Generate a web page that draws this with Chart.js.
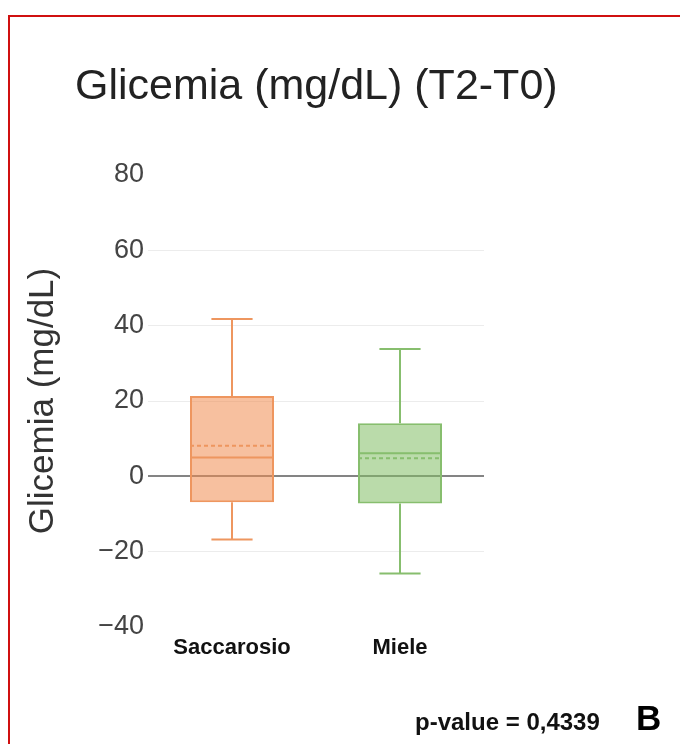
<!DOCTYPE html>
<html>
<head>
<meta charset="utf-8">
<script src="https://cdn.jsdelivr.net/npm/chart.js@4.4.1/dist/chart.umd.min.js"></script>
<style>
  html, body { margin: 0; padding: 0; background: #fff; }
  #wrap { position: relative; width: 680px; height: 744px; overflow: hidden; font-family: "Liberation Sans", Arial, sans-serif; }
  #frame { position: absolute; left: 8px; top: 15px; right: -10px; bottom: -10px; border-left: 2px solid #d01010; border-top: 2px solid #d01010; }
  canvas { position: absolute; left: 0; top: 0; }
  .txt { position: absolute; line-height: 1; white-space: nowrap; color: #222; }
  #titolo { left: 75px; top: 63px; font-size: 43px; }
  #pval { left: 415px; top: 710px; font-size: 24px; font-weight: bold; color: #111; }
  #lettera { left: 636px; top: 700px; font-size: 35px; font-weight: bold; color: #000; }
</style>
</head>
<body>
<div id="wrap">
  <canvas id="graficaGlicemia" width="680" height="744"></canvas>
  <div id="frame"></div>
  <div class="txt" id="titolo">Glicemia (mg/dL) (T2-T0)</div>
  <div class="txt" id="pval">p-value = 0,4339</div>
  <div class="txt" id="lettera">B</div>
</div>
<script>
// Gruppi e statistiche dei box plot
const gruppi = ['Saccarosio', 'Miele'];
const q1 = [-6.9, -7.2];
const q3 = [21.3, 14.1];
const mediana = [5.0, 6.1];
const media = [8.1, 4.8];
const baffoMin = [-16.8, -25.8];
const baffoMax = [41.8, 33.8];

const riempimento = ['rgba(240, 140, 80, 0.55)', 'rgba(130, 190, 100, 0.55)'];
const bordo = ['rgb(238, 150, 95)', 'rgb(135, 190, 110)'];

// Disegna baffi, mediana e media sopra i box
const boxPlugin = {
    id: 'boxExtras',
    afterDatasetsDraw(chart) {
        const ctx = chart.ctx;
        const y = chart.scales.y;
        const meta = chart.getDatasetMeta(0);
        meta.data.forEach(function (bar, i) {
            const cx = bar.x;
            const half = bar.width / 2;
            const cap = half * 0.49;
            ctx.save();
            ctx.strokeStyle = bordo[i];
            ctx.lineWidth = 2;
            ctx.beginPath();
            ctx.moveTo(cx, y.getPixelForValue(q3[i]));
            ctx.lineTo(cx, y.getPixelForValue(baffoMax[i]));
            ctx.moveTo(cx - cap, y.getPixelForValue(baffoMax[i]));
            ctx.lineTo(cx + cap, y.getPixelForValue(baffoMax[i]));
            ctx.moveTo(cx, y.getPixelForValue(q1[i]));
            ctx.lineTo(cx, y.getPixelForValue(baffoMin[i]));
            ctx.moveTo(cx - cap, y.getPixelForValue(baffoMin[i]));
            ctx.lineTo(cx + cap, y.getPixelForValue(baffoMin[i]));
            ctx.moveTo(cx - half, y.getPixelForValue(mediana[i]));
            ctx.lineTo(cx + half, y.getPixelForValue(mediana[i]));
            ctx.stroke();
            ctx.setLineDash([4, 3]);
            ctx.beginPath();
            ctx.moveTo(cx - half, y.getPixelForValue(media[i]));
            ctx.lineTo(cx + half, y.getPixelForValue(media[i]));
            ctx.stroke();
            ctx.restore();
        });
    }
};

const ctx = document.getElementById('graficaGlicemia').getContext('2d');

const grafica = new Chart(ctx, {
    type: 'bar',
    data: {
        labels: gruppi,
        datasets: [{
            label: 'Glicemia',
            data: gruppi.map(function (g, i) { return [q1[i], q3[i]]; }),
            backgroundColor: riempimento,
            borderColor: bordo,
            borderWidth: 2,
            borderSkipped: false,
            barPercentage: 0.5,
            categoryPercentage: 1.0
        }]
    },
    plugins: [boxPlugin],
    options: {
        responsive: false,
        animation: false,
        layout: {
            padding: { left: 0, right: 196, top: 175, bottom: 77 }
        },
        plugins: {
            legend: { display: false },
            tooltip: { enabled: false },
            title: { display: false }
        },
        scales: {
            x: {
                grid: { display: false, drawTicks: false },
                border: { display: false },
                ticks: {
                    color: '#111',
                    padding: 8,
                    font: { family: '"Liberation Sans", Arial, sans-serif', size: 22, weight: 'bold' }
                },
                afterFit: function (scale) { scale.height = 40; }
            },
            y: {
                min: -40,
                max: 80,
                ticks: {
                    stepSize: 20,
                    color: '#444',
                    padding: 4,
                    font: { family: '"Liberation Sans", Arial, sans-serif', size: 27 },
                    callback: function (v) { return v < 0 ? '\u2212' + Math.abs(v) : v; }
                },
                grid: {
                    drawTicks: false,
                    color: function (c) {
                        const v = c.tick.value;
                        if (v === 0) return 'rgba(110, 110, 110, 0.85)';
                        if (v === 80 || v === -40) return 'rgba(0,0,0,0)';
                        return '#ececec';
                    },
                    lineWidth: function (c) { return c.tick.value === 0 ? 2 : 1; }
                },
                border: { display: false },
                title: {
                    display: true,
                    text: 'Glicemia (mg/dL)',
                    color: '#333',
                    padding: { top: 22, bottom: 0 },
                    font: { family: '"Liberation Sans", Arial, sans-serif', size: 35 }
                },
                afterFit: function (scale) { scale.width = 148; }
            }
        }
    }
});
</script>
</body>
</html>
